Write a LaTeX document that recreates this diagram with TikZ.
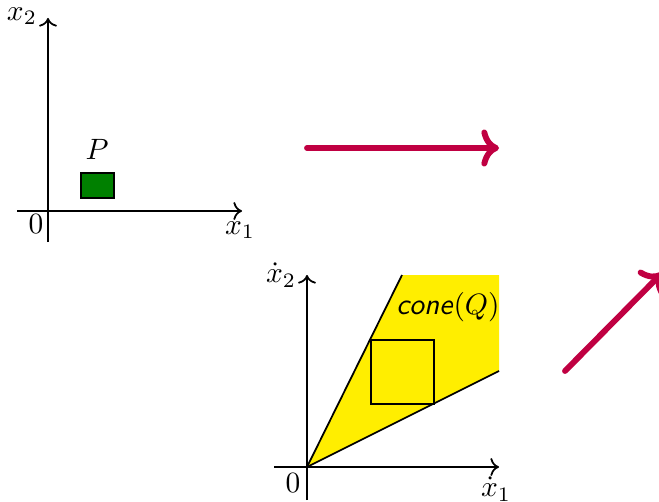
\documentclass[tikz,border=0pt]{standalone}
\usepackage{tikz}
\usetikzlibrary{positioning, arrows.meta}

\definecolor{slidered}{RGB}{192,0,66}
\definecolor{setgreen}{RGB}{0,128,0}
\definecolor{coneyellow}{RGB}{255,238,0}

\begin{document}
\begin{tikzpicture}[
    x=0.34pt,
    y=-0.34pt,
    axis/.style={
        ->,
        semithick
    },
    ray/.style={
        semithick
    },
    mapto/.style={
        ->,
        line width=2pt,
        line cap=round,
        draw=slidered
    },
    lbl/.style={
        inner sep=1pt,
        font=\normalsize
    }
]
    \useasboundingbox (0,0) rectangle (659,502);

    % === Espace des positions ===
    \coordinate (o1) at (48,211);
    \coordinate (x1w) at (17,211);
    \coordinate (x1e) at (242,211);
    \coordinate (x2s) at (48,242);
    \coordinate (x2n) at (48,18);
    \draw[axis] (x1w) -- (x1e);
    \draw[axis] (x2s) -- (x2n);
    \node[lbl] (zero1) at (36,224) {$0$};
    \node[lbl] (lx1) at (240,230) {$x_1$};
    \node[lbl] (lx2) at (22,16) {$x_2$};
    \draw[semithick, fill=setgreen] (81,173) rectangle (114,198);
    \node[lbl] (P) at (97,149) {$P$};

    % === Espace des vitesses ===
    \coordinate (o2) at (307,467);
    \coordinate (up) at (402,275);
    \coordinate (corner) at (499,275);
    \coordinate (low) at (499,371);
    \fill[coneyellow] (o2) -- (up) -- (corner) -- (low) -- cycle;
    \draw[ray] (o2) -- (up);
    \draw[ray] (o2) -- (low);
    \draw[semithick] (371,340) rectangle (434,404);
    \draw[axis] (274,467) -- (499,467);
    \draw[axis] (307,500) -- (307,275);
    \node[lbl] (zero2) at (293,483) {$0$};
    \node[lbl] (ldx1) at (496,489) {$\dot{x}_1$};
    \node[lbl] (ldx2) at (281,275) {$\dot{x}_2$};
    \node[lbl] (cone) at (448,307) {\textsf{\textit{cone}}$(Q)$};

    % === Fleches ===
    \coordinate (a1) at (307,148);
    \coordinate (b1) at (499,148);
    \coordinate (a2) at (565,371);
    \coordinate (b2) at (662,273);
    \draw[mapto] (a1) -- (b1);
    \draw[mapto] (a2) -- (b2);

\end{tikzpicture}
\end{document}
